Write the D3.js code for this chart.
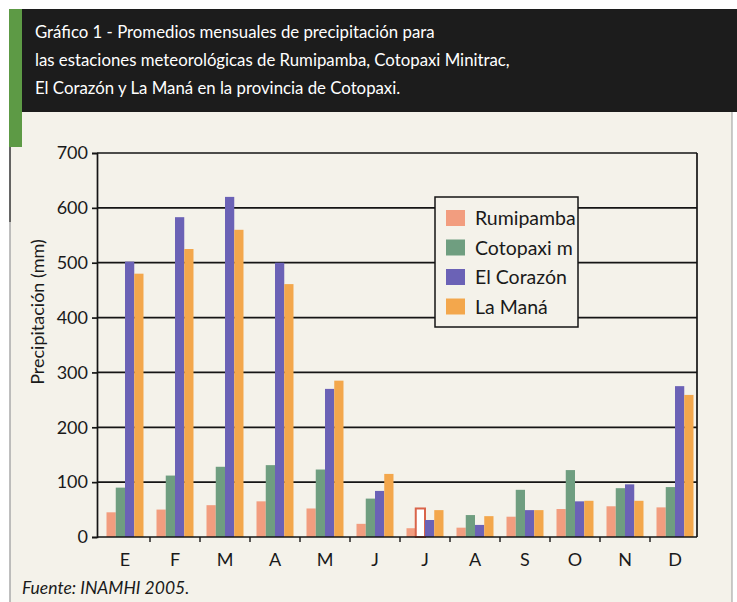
<!DOCTYPE html>
<html>
<head>
<meta charset="utf-8">
<script src="https://cdn.jsdelivr.net/npm/d3@7"></script>
<style>
  html, body { margin: 0; padding: 0; background: #ffffff; }
  text { font-family: Lato, 'Open Sans', sans-serif; }
</style>
</head>
<body>
<div class="display"></div>
<script>
const WIDTH = 737;
const HEIGHT = 602;

const MONTHS = ['E', 'F', 'M', 'A', 'M', 'J', 'J', 'A', 'S', 'O', 'N', 'D'];
const SERIES = ['Rumipamba', 'Cotopaxi m', 'El Corazón', 'La Maná'];
const RUMIPAMBA = [45, 50, 58, 65, 52, 24, 16, 17, 37, 51, 56, 54];
const COTOPAXI = [90, 112, 128, 131, 123, 70, 52, 40, 86, 122, 89, 91];
const CORAZON = [502, 583, 620, 500, 270, 84, 31, 22, 49, 65, 96, 275];
const LA_MANA = [480, 525, 560, 461, 285, 115, 49, 38, 49, 66, 66, 259];
const Y_TICKS = [0, 100, 200, 300, 400, 500, 600, 700];

const COLORS = ['#f29d7f', '#6f9e80', '#6b62b6', '#f3a74c'];

const TITLE_LINES = [
  'Gráfico 1 - Promedios mensuales de precipitación para',
  'las estaciones meteorológicas de Rumipamba, Cotopaxi Minitrac,',
  'El Corazón y La Maná en la provincia de Cotopaxi.'
];
const Y_LABEL = 'Precipitación (mm)';
const SOURCE = 'Fuente: INAMHI 2005.';

// plot frame
const PL = 97, PR = 697, PT = 153, PB = 537;

const svg = d3.select('.display')
  .append('svg')
  .attr('width', WIDTH)
  .attr('height', HEIGHT);

// panel background + header
svg.append('rect').attr('x', 10).attr('y', 110).attr('width', 722).attr('height', HEIGHT - 110).attr('fill', '#f4f2ea');
svg.append('rect').attr('x', 10).attr('y', 9).attr('width', WIDTH - 10).attr('height', 103).attr('fill', '#1c1c1c');
svg.append('rect').attr('x', 9).attr('y', 9).attr('width', 13).attr('height', 138).attr('fill', '#5d9a45');
svg.append('line').attr('x1', 10).attr('x2', 10).attr('y1', 147).attr('y2', 222).attr('stroke', '#333').attr('stroke-width', 1.5);
svg.append('line').attr('x1', 10).attr('x2', 10).attr('y1', 222).attr('y2', HEIGHT).attr('stroke', '#aaa').attr('stroke-width', 1.5);
svg.append('line').attr('x1', 732).attr('x2', 732).attr('y1', 112).attr('y2', HEIGHT).attr('stroke', '#999').attr('stroke-width', 1);

TITLE_LINES.forEach((t, i) => {
  svg.append('text')
    .attr('x', 35)
    .attr('y', 38 + i * 28)
    .attr('fill', '#ffffff')
    .style('font-size', '16.8px')
    .text(t);
});

const data = MONTHS.map((m, i) => ({
  i: i,
  month: m,
  values: [RUMIPAMBA[i], COTOPAXI[i], CORAZON[i], LA_MANA[i]]
}));

const x0 = d3.scaleBand()
  .domain(d3.range(MONTHS.length))
  .range([100, 700])
  .paddingInner(0.26)
  .paddingOuter(0.13);

const x1 = d3.scaleBand()
  .domain(d3.range(SERIES.length))
  .range([0, x0.bandwidth()]);

const y = d3.scaleLinear()
  .domain([0, 700])
  .range([PB, PT]);

// gridlines
svg.append('g')
  .selectAll('line')
  .data(Y_TICKS.filter(d => d > 0))
  .enter()
  .append('line')
  .attr('x1', PL)
  .attr('x2', PR)
  .attr('y1', d => y(d))
  .attr('y2', d => y(d))
  .attr('stroke', '#151515')
  .attr('stroke-width', 1.7);

// bars
const groups = svg.append('g')
  .selectAll('g')
  .data(data)
  .enter()
  .append('g')
  .attr('transform', d => `translate(${x0(d.i)}, 0)`);

groups.selectAll('rect')
  .data(d => d.values.map((v, k) => ({ k: k, v: v, i: d.i })))
  .enter()
  .append('rect')
  .attr('x', d => x1(d.k))
  .attr('y', d => y(d.v))
  .attr('width', x1.bandwidth())
  .attr('height', d => y(0) - y(d.v))
  .attr('fill', d => (d.k === 1 && d.i === 6) ? '#ffffff' : COLORS[d.k])
  .attr('stroke', d => (d.k === 1 && d.i === 6) ? '#d9644a' : 'none')
  .attr('stroke-width', 2);

// y axis
const yAxis = svg.append('g')
  .attr('transform', `translate(${PL}, 0)`)
  .call(d3.axisLeft(y).tickValues(Y_TICKS).tickSize(5).tickPadding(4));
yAxis.select('.domain').attr('stroke', '#151515').attr('stroke-width', 1.7);
yAxis.selectAll('.tick line').attr('stroke', '#151515').attr('stroke-width', 1.7);
yAxis.selectAll('text')
  .style('font-size', '18px')
  .attr('fill', '#1a1a1a')
  .attr('font-family', 'Lato, sans-serif');

// right frame
svg.append('line')
  .attr('x1', PR).attr('x2', PR)
  .attr('y1', PT).attr('y2', PB)
  .attr('stroke', '#151515').attr('stroke-width', 1.7);

// x axis
svg.append('line')
  .attr('x1', PL).attr('x2', PR)
  .attr('y1', PB).attr('y2', PB)
  .attr('stroke', '#151515').attr('stroke-width', 1.7);

svg.append('g')
  .selectAll('line')
  .data(d3.range(1, MONTHS.length))
  .enter()
  .append('line')
  .attr('x1', d => x0(d) - x0.step() * x0.paddingInner() / 2)
  .attr('x2', d => x0(d) - x0.step() * x0.paddingInner() / 2)
  .attr('y1', PB)
  .attr('y2', PB + 5)
  .attr('stroke', '#151515')
  .attr('stroke-width', 1.4);

svg.append('g')
  .selectAll('text')
  .data(data)
  .enter()
  .append('text')
  .attr('x', d => x0(d.i) + x0.bandwidth() / 2)
  .attr('y', 566)
  .attr('text-anchor', 'middle')
  .attr('fill', '#1a1a1a')
  .style('font-size', '18px')
  .text(d => d.month);

// y label
svg.append('text')
  .attr('transform', `translate(44, 312) rotate(-90)`)
  .attr('text-anchor', 'middle')
  .attr('fill', '#1a1a1a')
  .style('font-size', '18px')
  .text(Y_LABEL);

// source
svg.append('text')
  .attr('x', 22)
  .attr('y', 594)
  .attr('fill', '#1a1a1a')
  .style('font-size', '17.5px')
  .style('font-style', 'italic')
  .text(SOURCE);

// legend
const LX = 435, LY = 197, LW = 143, LH = 130;
svg.append('clipPath').attr('id', 'legclip')
  .append('rect').attr('x', LX).attr('y', LY).attr('width', LW).attr('height', LH);
const legend = svg.append('g');
legend.append('rect')
  .attr('x', LX).attr('y', LY).attr('width', LW).attr('height', LH)
  .attr('fill', '#f4f2ea')
  .attr('stroke', '#151515')
  .attr('stroke-width', 1.5);
const legItems = legend.append('g').attr('clip-path', 'url(#legclip)');
SERIES.forEach((s, k) => {
  const cy = 218 + k * 29.5;
  legItems.append('rect')
    .attr('x', 446).attr('y', cy - 8).attr('width', 19).attr('height', 16)
    .attr('fill', COLORS[k]);
  legItems.append('text')
    .attr('x', 475).attr('y', cy + 7)
    .attr('fill', '#1a1a1a')
    .style('font-size', '19.5px')
    .text(s);
});
</script>
</body>
</html>
